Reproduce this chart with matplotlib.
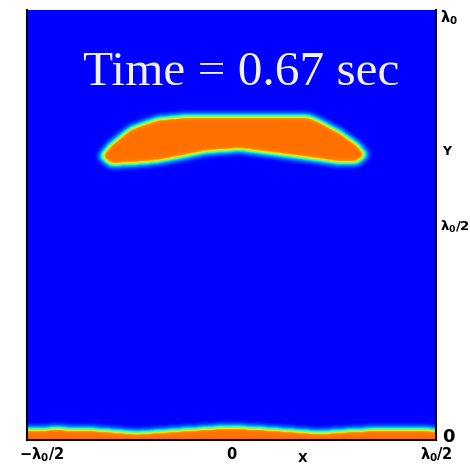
import numpy as np
import matplotlib
matplotlib.use('Agg')
import matplotlib.pyplot as plt
from matplotlib.colors import LinearSegmentedColormap
from matplotlib.transforms import ScaledTranslation

# Heavy fluid bubble at t = 0.67 s, outline
# (x in units of lambda0, y in units of lambda0)
bubble_top_x = [-0.322, -0.297, -0.248, -0.182, -0.126, 0.021, 0.192, 0.216, 0.265, 0.307, 0.332]
bubble_top_y = [0.660, 0.688, 0.726, 0.748, 0.753, 0.755, 0.753, 0.743, 0.718, 0.690, 0.664]
bubble_bot_x = [-0.322, -0.297, -0.248, -0.182, -0.060, 0.021, 0.119, 0.192, 0.265, 0.307, 0.332]
bubble_bot_y = [0.660, 0.640, 0.642, 0.647, 0.670, 0.675, 0.663, 0.654, 0.644, 0.644, 0.664]

# bottom layer interface
layer_x = [-0.5, -0.419, -0.322, -0.231, -0.126, -0.004, 0.094, 0.216, 0.314, 0.412, 0.5]
layer_y = [0.025, 0.026, 0.023, 0.016, 0.023, 0.030, 0.025, 0.017, 0.023, 0.025, 0.023]

xtick_pos = [-0.5, 0.0, 0.5]
xtick_lab = [r'$\mathbf{-\lambda_0/2}$', r'$\mathbf{0}$', r'$\mathbf{\lambda_0/2}$']
ytick_pos = [0.0, 0.5, 1.0]
ytick_lab = [r'$\mathbf{0}$', r'$\mathbf{\lambda_0/2}$', r'$\mathbf{\lambda_0}$']
title_txt = 'Time = 0.67 sec'

nx = 409
ny = 430
gx = np.linspace(-0.5, 0.5, nx)
gy = np.linspace(0.0, 1.0, ny)
X, Y = np.meshgrid(gx, gy)

up = np.interp(gx, bubble_top_x, bubble_top_y)
lo = np.interp(gx, bubble_bot_x, bubble_bot_y)
inside = (X >= bubble_top_x[0]) & (X <= bubble_top_x[-1]) & (Y > lo[None, :]) & (Y < up[None, :])
lay = np.interp(gx, layer_x, layer_y)
inside = inside | (Y < lay[None, :])
field = inside.astype(float)

def blur(a, s):
	r = int(3*s) + 1
	k = np.exp(-0.5*(np.arange(-r, r+1)/s)**2)
	k = k/k.sum()
	a = np.pad(a, r, mode='edge')
	a = np.apply_along_axis(lambda v: np.convolve(v, k, mode='valid'), 0, a)
	a = np.apply_along_axis(lambda v: np.convolve(v, k, mode='valid'), 1, a)
	return a

field = blur(field, 3.0)

cmap = LinearSegmentedColormap.from_list('trunc_jet', [
	(0.0, '#0000ff'), (0.06, '#0038ff'), (0.25, '#00a8ff'), (0.42, '#20ffc0'),
	(0.58, '#90ff50'), (0.7, '#ffe000'), (0.84, '#ff8000'), (1.0, '#ff7000')])

fig = plt.figure(figsize=(4.70, 4.68), dpi=100)
ax = fig.add_axes([27/470, 28/468, 409/470, 430/468])
ax.imshow(field, extent=[-0.5, 0.5, 0, 1], origin='lower', aspect='auto',
	cmap=cmap, vmin=0, vmax=1, interpolation='bilinear')
ax.set_xlim(-0.5, 0.5)
ax.set_ylim(0, 1)

ax.text(-0.363, 0.826, title_txt, color='#f2f2f2', fontsize=35.5,
	family='Liberation Serif', va='baseline', ha='left')

ax.set_xticks(xtick_pos)
ax.set_xticklabels(xtick_lab, fontsize=10.5)
ax.set_yticks(ytick_pos)
ax.set_yticklabels(ytick_lab, fontsize=9.5)
ax.yaxis.tick_right()
ax.tick_params(length=0, pad=4)
ax.tick_params(axis='y', pad=3)
ylabs = ax.get_yticklabels()
ylabs[0].set_fontsize(13)
ylabs[0].set_transform(ylabs[0].get_transform() + ScaledTranslation(0.02, 0.05, fig.dpi_scale_trans))
ylabs[2].set_fontsize(10.5)
ylabs[2].set_transform(ylabs[2].get_transform() + ScaledTranslation(0, -0.05, fig.dpi_scale_trans))
xlabs = ax.get_xticklabels()
xlabs[0].set_transform(xlabs[0].get_transform() + ScaledTranslation(0.14, 0, fig.dpi_scale_trans))

ax.set_xlabel('X', fontsize=9, fontweight='bold')
ax.xaxis.set_label_coords(0.675, -0.028)
ax.yaxis.set_label_position('right')
ax.set_ylabel('Y', fontsize=9, fontweight='bold', rotation=0)
ax.yaxis.set_label_coords(1.025, 0.686)

for s in ['left', 'bottom', 'right']:
	ax.spines[s].set_color('black')
	ax.spines[s].set_linewidth(1.5)
ax.spines['top'].set_visible(False)

fig.savefig('out.png', dpi=100)
